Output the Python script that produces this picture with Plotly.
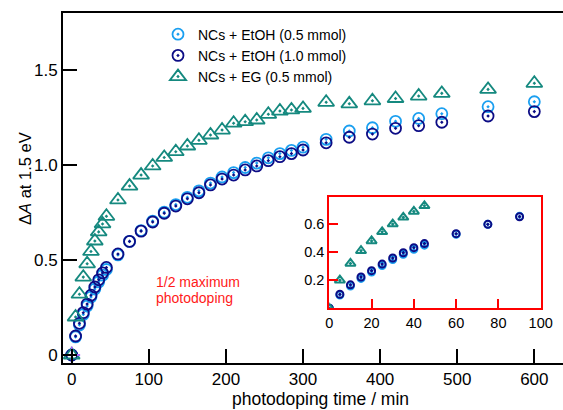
import plotly.graph_objects as go

# ---------------- data ----------------
time_min = [0, 5, 10, 15, 20, 25, 30, 35, 40, 45, 60, 75, 90, 105, 120, 135, 150,
            165, 180, 195, 210, 225, 240, 255, 270, 285, 300, 330, 360, 390, 420,
            450, 480, 540, 600]

etoh_05 = [0.0, 0.095, 0.158, 0.213, 0.258, 0.305, 0.347, 0.385, 0.42, 0.45, 0.527,
           0.598, 0.655, 0.705, 0.752, 0.792, 0.83, 0.864, 0.905, 0.937, 0.96,
           0.987, 1.01, 1.038, 1.06, 1.077, 1.094, 1.135, 1.179, 1.196, 1.23,
           1.245, 1.27, 1.307, 1.333]

etoh_10 = [0.0, 0.10, 0.167, 0.223, 0.268, 0.315, 0.358, 0.396, 0.432, 0.461, 0.532,
           0.598, 0.652, 0.70, 0.746, 0.784, 0.822, 0.854, 0.895, 0.926, 0.947,
           0.974, 0.995, 1.023, 1.044, 1.06, 1.079, 1.117, 1.146, 1.163, 1.193,
           1.207, 1.225, 1.258, 1.281]

eg_05 = [0.0, 0.20, 0.32, 0.41, 0.48, 0.545, 0.60, 0.648, 0.69, 0.73, 0.816,
         0.889, 0.947, 0.995, 1.04, 1.07, 1.10, 1.13, 1.158, 1.184, 1.22,
         1.228, 1.237, 1.267, 1.284, 1.29, 1.298, 1.33, 1.322, 1.338, 1.35,
         1.363, 1.377, 1.398, 1.43]

inset_time = [0, 5, 10, 15, 20, 25, 30, 35, 40, 45, 60, 75, 90]
inset_n_etoh = 13   # EtOH series shown up to 90 min in the inset
inset_n_eg = 10     # EG series shown up to 45 min in the inset

origin_x = [0]
origin_y = [0]

x_ticks = [0, 100, 200, 300, 400, 500, 600]
y_ticks = [0, 0.5, 1.0, 1.5]
y_tick_labels = ["0", "0.5", "1.0", "1.5"]
inset_x_ticks = [0, 20, 40, 60, 80, 100]
inset_y_ticks = [0.2, 0.4, 0.6]
inset_y_tick_labels = ["0.2", "0.4", "0.6"]

names = ["NCs + EtOH (0.5 mmol)", "NCs + EtOH (1.0 mmol)", "NCs + EG (0.5 mmol)"]
colors = ["#1a9ff0", "#0c0c85", "#15897f"]
note_lines = ["1/2 maximum", "photodoping"]

FONT = "Liberation Sans, Arial, sans-serif"

fig = go.Figure()

series = [etoh_05, etoh_10, eg_05]
symbols = ["circle-open-dot", "circle-open-dot", "triangle-up-open-dot"]
sizes = [11, 11, 14]

for vals, nm, col, sym, sz in zip(series, names, colors, symbols, sizes):
    fig.add_trace(go.Scatter(
        x=time_min, y=vals, mode="markers", name=nm,
        marker=dict(symbol=sym, size=sz, color=col, line=dict(width=1.8, color=col)),
        xaxis="x", yaxis="y"))

fig.add_trace(go.Scatter(
    x=origin_x, y=origin_y, mode="markers", showlegend=False,
    marker=dict(symbol="cross-thin-open", size=12, line=dict(width=1.8, color="black")),
    xaxis="x", yaxis="y"))

# inset
inset_sizes = [7, 7, 9]
inset_counts = [inset_n_etoh, inset_n_etoh, inset_n_eg]
for vals, col, sym, sz, n in zip(series, colors, symbols, inset_sizes, inset_counts):
    fig.add_trace(go.Scatter(
        x=inset_time[:n], y=vals[:n],
        mode="markers", showlegend=False,
        marker=dict(symbol=sym, size=sz, color=col, line=dict(width=2, color=col)),
        xaxis="x2", yaxis="y2"))

axis_common = dict(showgrid=False, zeroline=False, showline=True, automargin=False)

fig.update_layout(
    width=563, height=410,
    margin=dict(l=63, r=0, t=13, b=47, pad=0),
    paper_bgcolor="white", plot_bgcolor="white",
    font=dict(family=FONT, size=17, color="black"),
    showlegend=True,
    legend=dict(x=0.19, y=0.984, xanchor="left", yanchor="top",
                bgcolor="rgba(0,0,0,0)", font=dict(size=14, family=FONT),
                tracegroupgap=0, itemclick=False),
    xaxis=dict(domain=[0, 1], range=[-11.3, 637.2], tickvals=x_ticks,
               ticks="inside", ticklen=14, tickwidth=2, tickcolor="black",
               linecolor="black", linewidth=2, mirror=True,
               tickfont=dict(size=17), **axis_common),
    yaxis=dict(domain=[0, 1], range=[-0.042, 1.8], tickvals=y_ticks,
               ticktext=y_tick_labels,
               ticks="inside", ticklen=14, tickwidth=2, tickcolor="black",
               linecolor="black", linewidth=2, mirror=False,
               tickfont=dict(size=17), **axis_common),
    xaxis2=dict(domain=[0.5326, 0.9554], range=[0, 100], anchor="y2",
                tickvals=inset_x_ticks, ticks="inside", ticklen=9, tickwidth=2,
                tickcolor="red", linecolor="red", linewidth=2, mirror=True,
                tickfont=dict(size=14.5), **axis_common),
    yaxis2=dict(domain=[0.1563, 0.4751], range=[0, 0.795], anchor="x2",
                tickvals=inset_y_ticks, ticktext=inset_y_tick_labels,
                ticks="inside", ticklen=9, tickwidth=2,
                tickcolor="red", linecolor="red", linewidth=2, mirror=True,
                tickfont=dict(size=14.5), **axis_common),
)

# inset background
fig.add_shape(type="rect", xref="x2 domain", yref="y2 domain", x0=0, x1=1, y0=0, y1=1,
              fillcolor="white", line=dict(width=0), layer="below")

fig.add_annotation(text="Δ<i>A</i> at 1.5 eV", xref="paper", yref="paper",
                   x=(25 - 63) / 500, y=(363 - 179) / 350, textangle=-90, showarrow=False,
                   font=dict(size=16.5, family=FONT), xanchor="center", yanchor="middle")
fig.add_annotation(text="photodoping time / min", xref="paper", yref="paper",
                   x=(320 - 63) / 500, y=(363 - 399) / 350, showarrow=False,
                   font=dict(size=17.5, family=FONT), xanchor="center", yanchor="middle")
for line_text, ypix in zip(note_lines, [282, 298]):
    fig.add_annotation(text=line_text, xref="paper", yref="paper",
                       x=(154 - 63) / 500, y=(363 - ypix) / 350, showarrow=False,
                       xanchor="left", yanchor="middle",
                       font=dict(size=14, family=FONT, color="#ff1a1a"))

# remove the default page margin so the figure sits at the window's top-left corner
fig.write_html(
    "out.html",
    config={"displayModeBar": False},
    post_script="document.body.style.margin='0';document.body.style.overflow='hidden';",
)
